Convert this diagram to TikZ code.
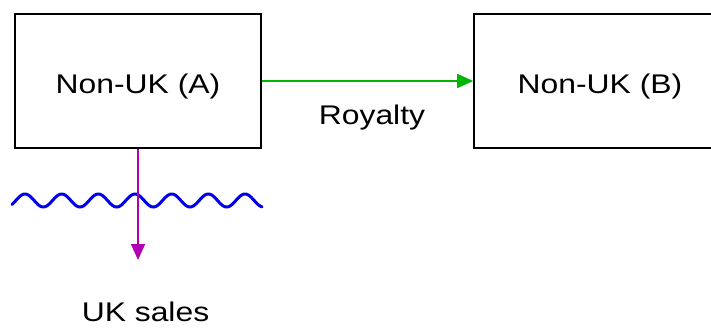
\documentclass[tikz,border=0pt]{standalone}
\usepackage{fontspec}
\setmainfont[FakeStretch=1.18]{Liberation Sans}
\usetikzlibrary{arrows.meta}
\definecolor{linkgreen}{RGB}{0,180,0}
\definecolor{salespurple}{RGB}{176,0,176}
\definecolor{waveblue}{RGB}{0,0,235}
\tikzset{
  entity/.style={draw=black, line width=1.6pt, fill=white, font=\fontsize{27}{30}\selectfont,
    text height=24pt, text depth=0pt, inner sep=0pt},
  caption/.style={font=\fontsize{27}{30}\selectfont, anchor=base, inner sep=0pt},
  flow/.style={line width=1.6pt, -{Triangle[length=16pt,width=14pt]}}
}
\begin{document}
\begin{tikzpicture}[x=1pt,y=-1pt]
  \useasboundingbox (0,0) rectangle (711,327);
  % the two companies
  \node[entity, minimum width=246pt, minimum height=134pt] (A) at (138,81) {Non-UK (A)};
  \node[entity, minimum width=252pt, minimum height=134pt] (B) at (600,81) {Non-UK (B)};
  % royalty payment from A to B
  \draw[flow, draw=linkgreen, fill=linkgreen] (A.east) -- (B.west);
  \node[caption] (roy) at (372,124) {Royalty};
  % UK border as a wavy line (period about 36.7pt)
  \draw[waveblue, line width=3pt, line cap=round]
    plot[domain=12:262, samples=300, smooth] (\x, {200.5 - 6.5*cos(9.8173*(\x-25))});
  % sales into the UK
  \coordinate (uk) at (138,260);
  \draw[flow, draw=salespurple, fill=salespurple] (A.south) -- (uk);
  \node[caption] (sales) at (145.5,321) {UK sales};
\end{tikzpicture}
\end{document}
